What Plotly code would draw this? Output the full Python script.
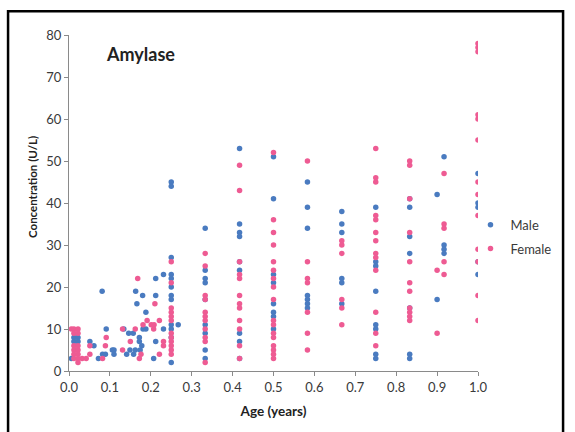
import plotly.graph_objects as go

# ---- data ----
male_age = [0.006, 0.012, 0.012, 0.022, 0.022,
            0.051, 0.061, 0.072, 0.082, 0.089, 0.081, 0.091,
            0.106, 0.110, 0.110, 0.134, 0.141, 0.146, 0.149, 0.158, 0.157, 0.162,
            0.163, 0.166, 0.172, 0.172, 0.174, 0.178, 0.180, 0.181, 0.188, 0.188,
            0.207, 0.212, 0.212, 0.212, 0.231, 0.231,
            0.25, 0.25, 0.25, 0.25, 0.25, 0.25, 0.25, 0.25, 0.25, 0.25, 0.25, 0.25,
            0.267,
            0.333, 0.333, 0.333, 0.333, 0.333, 0.333, 0.333, 0.333, 0.333,
            0.417, 0.417, 0.417, 0.417, 0.417, 0.417, 0.417, 0.417, 0.417,
            0.5, 0.5, 0.5, 0.5, 0.5, 0.5, 0.5, 0.5,
            0.583, 0.583, 0.583, 0.583, 0.583, 0.583, 0.583,
            0.667, 0.667, 0.667, 0.667, 0.667, 0.667,
            0.75, 0.75, 0.75, 0.75, 0.75, 0.75, 0.75, 0.75,
            0.833, 0.833, 0.833, 0.833, 0.833, 0.833, 0.833,
            0.9, 0.9,
            0.917, 0.917, 0.917, 0.917,
            1.0, 1.0, 1.0, 1.0, 1.0]
male_conc = [3, 8, 7, 8, 7,
             7, 6, 3, 4, 4, 19, 10,
             5, 5, 4, 10, 4, 9, 5, 4, 9, 5,
             19, 16, 8, 7, 5, 6, 18, 10, 10, 14,
             3, 22, 18, 7, 23, 10,
             45, 44, 27, 23, 22, 20, 18, 17, 11, 10, 8, 2,
             11,
             34, 24, 22, 21, 17, 11, 9, 5, 3,
             53, 35, 33, 32, 26, 24, 9, 7, 3,
             51, 41, 23, 21, 16, 14, 13, 10,
             45, 39, 34, 18, 17, 16, 15,
             38, 35, 33, 22, 21, 16,
             39, 26, 25, 19, 11, 10, 4, 3,
             41, 39, 32, 28, 15, 4, 3,
             42, 17,
             51, 30, 29, 28,
             47, 40, 39, 26, 23]

female_age = [0.006, 0.012, 0.022, 0.012, 0.022, 0.012, 0.022, 0.012, 0.022,
              0.012, 0.022, 0.012, 0.022, 0.032, 0.042, 0.022,
              0.051, 0.051, 0.082, 0.089, 0.091, 0.131, 0.131, 0.150, 0.162, 0.168,
              0.172, 0.176, 0.181, 0.191, 0.201, 0.208, 0.207, 0.210, 0.221, 0.221,
              0.231, 0.231,
              0.25, 0.25, 0.25, 0.25, 0.25, 0.25, 0.25, 0.25, 0.25, 0.25, 0.25, 0.25,
              0.333, 0.333, 0.333, 0.333, 0.333, 0.333, 0.333, 0.333, 0.333, 0.333, 0.333,
              0.417, 0.417, 0.417, 0.417, 0.417, 0.417, 0.417, 0.417, 0.417, 0.417, 0.417, 0.417,
              0.5, 0.5, 0.5, 0.5, 0.5, 0.5, 0.5, 0.5, 0.5, 0.5, 0.5, 0.5, 0.5, 0.5, 0.5, 0.5, 0.5,
              0.583, 0.583, 0.583, 0.583, 0.583, 0.583, 0.583,
              0.667, 0.667, 0.667, 0.667, 0.667, 0.667,
              0.75, 0.75, 0.75, 0.75, 0.75, 0.75, 0.75, 0.75, 0.75, 0.75, 0.75, 0.75, 0.75,
              0.833, 0.833, 0.833, 0.833, 0.833, 0.833, 0.833, 0.833, 0.833, 0.833, 0.833,
              0.9, 0.9,
              0.917, 0.917, 0.917, 0.917, 0.917,
              1.0, 1.0, 1.0, 1.0, 1.0, 1.0, 1.0, 1.0, 1.0, 1.0, 1.0, 1.0, 1.0]
female_conc = [10, 10, 10, 9, 9, 6, 6, 5, 5,
               4, 4, 3, 3, 3, 3, 2,
               6, 4, 3, 6, 8, 10, 5, 7, 10, 22,
               3, 4, 11, 12, 11, 11, 10, 16, 12, 4,
               7, 6,
               26, 21, 15, 14, 13, 12, 9, 8, 7, 6, 5, 4,
               28, 25, 18, 17, 14, 13, 12, 10, 8, 7, 2,
               49, 43, 26, 23, 22, 18, 16, 15, 12, 10, 6, 3,
               52, 36, 33, 30, 26, 24, 22, 20, 17, 12, 11, 9, 8, 6, 5, 4, 3,
               50, 26, 22, 21, 14, 9, 5,
               31, 30, 28, 17, 15, 11,
               53, 46, 45, 37, 36, 33, 31, 28, 27, 24, 14, 9, 6,
               50, 49, 41, 33, 26, 21, 19, 15, 14, 13, 12,
               24, 9,
               47, 35, 34, 26, 23,
               78, 77, 76, 61, 60, 55, 45, 42, 37, 29, 26, 18, 12]

series_names = ["Male", "Female"]
x_ticks = [0.0, 0.1, 0.2, 0.3, 0.4, 0.5, 0.6, 0.7, 0.8, 0.9, 1.0]
y_ticks = [0, 10, 20, 30, 40, 50, 60, 70, 80]

BLUE = "#4a7bc0"
PINK = "#ee5b93"
FONT = "Lato, 'Open Sans', sans-serif"
TXT = "#3a3a3a"

fig = go.Figure()
fig.add_trace(go.Scatter(x=male_age, y=male_conc, mode="markers", name=series_names[0],
                         legendgroup="m",
                         marker=dict(color=BLUE, size=5.5, line=dict(width=0))))
fig.add_trace(go.Scatter(x=female_age, y=female_conc, mode="markers", name=series_names[1],
                         legendgroup="f",
                         marker=dict(color=PINK, size=5.5, line=dict(width=0))))

axis_common = dict(showgrid=False, zeroline=False, showline=True, linecolor="#8a8a8a",
                   linewidth=1, ticks="outside", ticklen=4, tickcolor="#8a8a8a",
                   automargin=False,
                   tickfont=dict(family=FONT, size=13, color=TXT))

fig.update_layout(
    width=575, height=432,
    margin=dict(l=69, r=97, t=35, b=61, autoexpand=False),
    paper_bgcolor="white", plot_bgcolor="white",
    font=dict(family=FONT, color=TXT),
    showlegend=True,
    legend=dict(x=(470 - 69) / 408.5, y=0.48, xanchor="left", yanchor="top",
                font=dict(family=FONT, size=13, color=TXT),
                tracegroupgap=4, bgcolor="rgba(0,0,0,0)", itemwidth=30),
    xaxis=dict(range=[0, 1.0], tickvals=x_ticks, tickformat=".1f",
               title=dict(text="<b>Age (years)</b>", font=dict(family=FONT, size=13.5, color="#222"),
                          standoff=12),
               **axis_common),
    yaxis=dict(range=[0, 80], tickvals=y_ticks, **axis_common),
    annotations=[
        dict(text="<b>Amylase</b>", xref="paper", yref="paper", x=0.175, y=0.944,
             xanchor="center", yanchor="middle", showarrow=False,
             font=dict(family=FONT, size=18, color="#222")),
        dict(text="<b>Concentration (U/L)</b>", xref="paper", yref="paper",
             x=(33 - 69) / 408.5, y=(371 - 187) / 336, textangle=-90,
             xanchor="center", yanchor="middle", showarrow=False,
             font=dict(family=FONT, size=11.5, color="#222")),
    ],
    shapes=[dict(type="rect", xref="paper", yref="paper",
                 x0=-0.149, x1=1.208, y0=-0.22, y1=1.071,
                 line=dict(color="black", width=2.5), fillcolor="rgba(0,0,0,0)")],
)

fig.write_html("out.html", config={"displayModeBar": False},
               post_script="document.body.style.margin='0';")
